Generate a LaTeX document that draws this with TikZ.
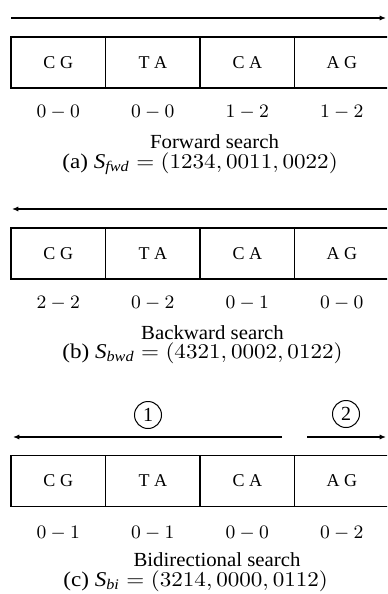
\documentclass[tikz,border=0pt]{standalone}
\usepackage{fix-cm}
\usepackage{amsmath}
\usepackage{graphicx}
\usepackage[no-math]{fontspec}
\setmainfont{Liberation Serif}
\usetikzlibrary{arrows.meta}

% caption line: slightly widened setting
\newcommand{\widecap}[1]{\scalebox{1.1}[1]{#1}}
\newcommand{\widehead}[1]{\scalebox{1.04}[1]{#1}}

\begin{document}
\begin{tikzpicture}[x=0.5pt,y=-0.5pt,
  cellbox/.style={draw, line width=0.55pt, minimum width=47.25pt, minimum height=25.5pt,
    inner sep=0pt, font=\fontsize{9}{10}\selectfont},
  rangelbl/.style={anchor=base, inner sep=0pt, font=\fontsize{9.5}{11}\selectfont},
  headline/.style={anchor=base, inner sep=0pt, font=\fontsize{10}{12}\selectfont},
  captline/.style={anchor=base west, inner sep=0pt, font=\fontsize{10.5}{12}\selectfont},
  dirarrow/.style={line width=0.6pt, -{Latex[length=3.2pt,width=2.6pt]}},
  stepno/.style={draw, circle, line width=0.5pt, minimum size=13.5pt, inner sep=0pt,
    font=\fontsize{10}{12}\selectfont}]
\useasboundingbox (0,0) rectangle (387,594);
\clip (0,0) rectangle (387,594);

% ---------- (a) forward search ----------
\coordinate (a0) at (11,18);
\coordinate (a1) at (386,18);
\draw[dirarrow] (a0) -- (a1);
\node[cellbox] (aCG) at (58.25,62.5) {C G};
\node[cellbox] (aTA) at (152.75,62.5) {T A};
\node[cellbox] (aCA) at (247.25,62.5) {C A};
\node[cellbox] (aAG) at (341.75,62.5) {A G};
\node[rangelbl] (an1) at (58.25,117) {$0-0$};
\node[rangelbl] (an2) at (152.75,117) {$0-0$};
\node[rangelbl] (an3) at (247.25,117) {$1-2$};
\node[rangelbl] (an4) at (341.75,117) {$1-2$};
\node[headline] (at) at (214.5,148.5) {\widehead{Forward search}};
\node[captline] (ac) at (62,168) {\widecap{(a) $\text{\textit{S}}_{\text{\textit{fwd}}} = (1234, 0011, 0022)$}};

% ---------- (b) backward search ----------
\coordinate (b0) at (387,209);
\coordinate (b1) at (12,209);
\draw[dirarrow] (b0) -- (b1);
\node[cellbox] (bCG) at (58.25,253.5) {C G};
\node[cellbox] (bTA) at (152.75,253.5) {T A};
\node[cellbox] (bCA) at (247.25,253.5) {C A};
\node[cellbox] (bAG) at (341.75,253.5) {A G};
\node[rangelbl] (bn1) at (58.25,308.5) {$2-2$};
\node[rangelbl] (bn2) at (152.75,308.5) {$0-2$};
\node[rangelbl] (bn3) at (247.25,308.5) {$0-1$};
\node[rangelbl] (bn4) at (341.75,308.5) {$0-0$};
\node[headline] (bt) at (212.5,339) {\widehead{Backward search}};
\node[captline] (bc) at (62,358) {\widecap{(b) $\text{\textit{S}}_{\text{\textit{bwd}}} = (4321, 0002, 0122)$}};

% ---------- (c) bidirectional search ----------
\node[stepno] (s1) at (148,415) {1};
\node[stepno] (s2) at (346,414) {2};
\coordinate (c0) at (282,437);
\coordinate (c1) at (13,437);
\coordinate (c2) at (307,437);
\coordinate (c3) at (386,437);
\draw[dirarrow] (c0) -- (c1);
\draw[dirarrow] (c2) -- (c3);
\node[cellbox] (cCG) at (58.25,481) {C G};
\node[cellbox] (cTA) at (152.75,481) {T A};
\node[cellbox] (cCA) at (247.25,481) {C A};
\node[cellbox] (cAG) at (341.75,481) {A G};
\node[rangelbl] (cn1) at (58.25,538) {$0-1$};
\node[rangelbl] (cn2) at (152.75,538) {$0-1$};
\node[rangelbl] (cn3) at (247.25,538) {$0-0$};
\node[rangelbl] (cn4) at (341.75,538) {$0-2$};
\node[headline] (ct) at (217,566) {\widehead{Bidirectional search}};
\node[captline] (cc) at (63,586) {\widecap{(c) $\text{\textit{S}}_{\text{\textit{bi}}} = (3214, 0000, 0112)$}};
\end{tikzpicture}
\end{document}
